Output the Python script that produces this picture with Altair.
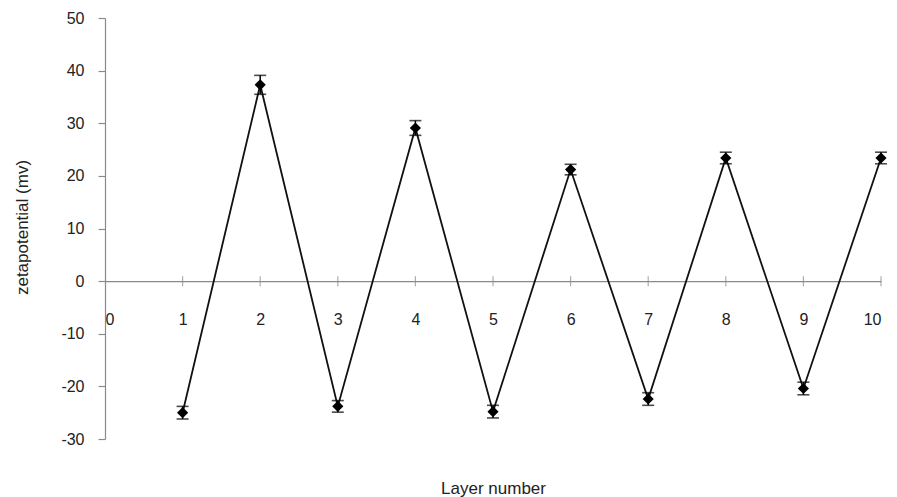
import altair as alt
import pandas as pd

layers = [1, 2, 3, 4, 5, 6, 7, 8, 9, 10]
zeta = [-25.0, 37.3, -23.8, 29.1, -24.8, 21.2, -22.4, 23.4, -20.4, 23.4]
err = [1.2, 1.8, 1.1, 1.4, 1.2, 1.0, 1.2, 1.1, 1.2, 1.1]
x_ticks = [0, 1, 2, 3, 4, 5, 6, 7, 8, 9, 10]
y_ticks = [-30, -20, -10, 0, 10, 20, 30, 40, 50]

df = pd.DataFrame({
    "layer": layers,
    "zeta": zeta,
    "lo": [z - e for z, e in zip(zeta, err)],
    "hi": [z + e for z, e in zip(zeta, err)],
})
ticks_df = pd.DataFrame({"t": x_ticks[1:]})

W, H = 776, 421
FONT = "Liberation Sans"
AXIS_GREY = "#8a8a8a"

xscale = alt.Scale(domain=[0, 10], nice=False, zero=False)
yscale = alt.Scale(domain=[-30, 50], nice=False, zero=False)
zero_from_bottom = H * 30 / 80

x_enc = alt.X(
    "layer:Q", scale=xscale,
    axis=alt.Axis(
        values=x_ticks, format="d", grid=False, ticks=False, tickSize=0,
        offset=-zero_from_bottom, labelPadding=30, labelFontSize=16,
        labelFont=FONT, labelColor="#222222", domainColor=AXIS_GREY,
        domainWidth=1.2, title="Layer number", titleFont=FONT,
        titleFontSize=17, titleFontWeight="normal", titleColor="#222222",
        titleY=212, titleBaseline="alphabetic", titleX=W / 2, titleAlign="center",
    ),
)
y_enc = alt.Y(
    "zeta:Q", scale=yscale,
    axis=alt.Axis(
        values=y_ticks, grid=False, tickSize=7, tickColor=AXIS_GREY,
        labelExpr="datum.value < 0 ? '-' + abs(datum.value) : '' + datum.value",
        tickWidth=1.2, labelPadding=14, labelFontSize=16, labelFont=FONT,
        labelColor="#222222", domainColor=AXIS_GREY, domainWidth=1.2,
        title="zetapotential (mv)", titleFont=FONT, titleFontSize=17,
        titleFontWeight="normal", titleColor="#222222", titleAngle=-90,
        titleX=-83, titleY=209, titleAlign="center", titleBaseline="middle",
    ),
)

base = alt.Chart(df)

line = base.mark_line(color="#111111", strokeWidth=1.8).encode(x=x_enc, y=y_enc)

tickmarks = alt.Chart(ticks_df).mark_tick(
    orient="vertical", size=10, thickness=1.2, color=AXIS_GREY
).encode(x=alt.X("t:Q", scale=xscale), y=alt.datum(0, scale=yscale))

bars = base.mark_rule(color="#000000", strokeWidth=1.5).encode(
    x=alt.X("layer:Q", scale=xscale), y=alt.Y("lo:Q", scale=yscale), y2="hi:Q"
)
cap_lo = base.mark_tick(orient="horizontal", size=12, thickness=1.6, color="#000000").encode(
    x=alt.X("layer:Q", scale=xscale), y=alt.Y("lo:Q", scale=yscale)
)
cap_hi = base.mark_tick(orient="horizontal", size=12, thickness=1.6, color="#000000").encode(
    x=alt.X("layer:Q", scale=xscale), y=alt.Y("hi:Q", scale=yscale)
)
pts = base.mark_point(shape="diamond", filled=True, size=125, color="#000000", opacity=1).encode(
    x=alt.X("layer:Q", scale=xscale), y=alt.Y("zeta:Q", scale=yscale)
)

chart = alt.layer(tickmarks, line, bars, cap_lo, cap_hi, pts).properties(
    width=W, height=H,
    background="white",
    autosize=alt.AutoSizeParams(type="none"),
    padding={"left": 97, "top": 10, "right": 8, "bottom": 58},
).configure_view(stroke=None)

chart.save("out.html", embed_options={"renderer": "svg", "actions": False})
